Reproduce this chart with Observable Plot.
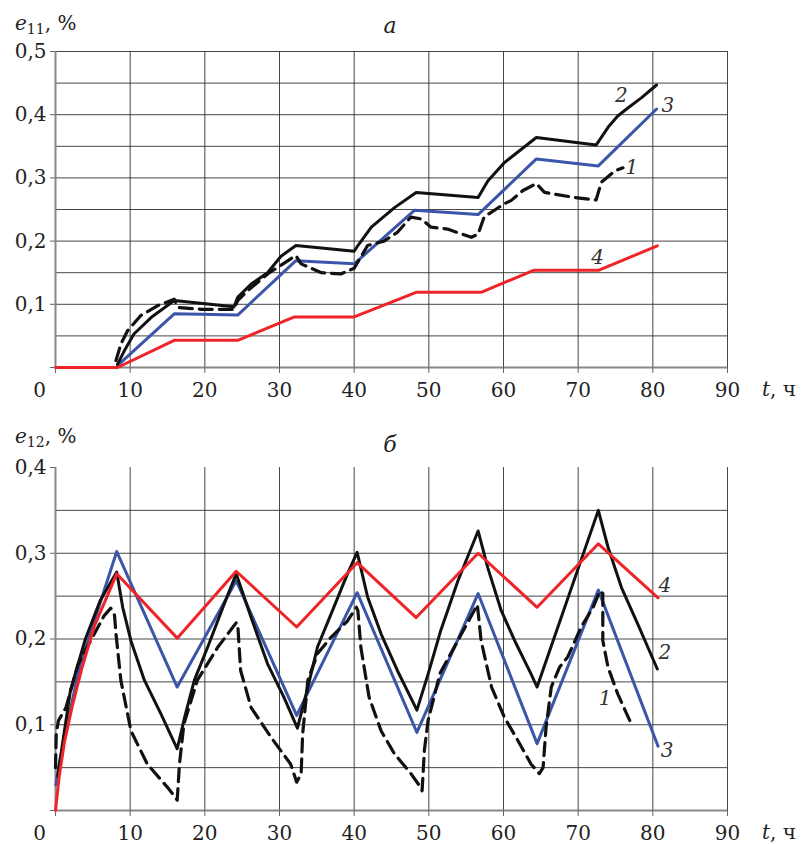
<!DOCTYPE html>
<html><head><meta charset="utf-8">
<script src="https://cdn.jsdelivr.net/npm/d3@7"></script>
<script src="https://cdn.jsdelivr.net/npm/@observablehq/plot@0.6"></script>
<style>
body{margin:0;background:#fff;}
#chart{width:801px;}
#chart svg{display:block;}
</style>
</head><body><div id="chart"></div>
<script>
// ---------- shared ticks ----------
const xTicks = [0, 10, 20, 30, 40, 50, 60, 70, 80, 90];
const xGrid = [10, 20, 30, 40, 50, 60, 70, 80, 90];

// ---------- panel а (e11) ----------
const aYTicks = [0, 0.1, 0.2, 0.3, 0.4, 0.5];
const aHGrid = [0.05, 0.1, 0.15, 0.2, 0.25, 0.3, 0.35, 0.4, 0.45, 0.5];

const a1_t = [8.1, 8.75, 9.65, 11.4, 13.7, 15.9, 16.4, 19.5, 23.9, 24.4, 25.7, 28.4, 31.5, 32.2, 32.9, 35.6, 38.2, 40.0, 41.8, 44.0, 45.8, 47.6, 49.0, 50.3, 52.5, 55.7, 56.6, 57.4, 60.1, 61.0, 62.6, 64.4, 65.5, 69.5, 72.4, 73.1, 74.9, 76.0];
const a1_e = [0.011, 0.037, 0.058, 0.082, 0.098, 0.108, 0.095, 0.092, 0.092, 0.106, 0.121, 0.148, 0.172, 0.177, 0.164, 0.150, 0.148, 0.157, 0.193, 0.200, 0.214, 0.238, 0.235, 0.222, 0.219, 0.206, 0.211, 0.238, 0.259, 0.264, 0.280, 0.291, 0.277, 0.269, 0.265, 0.293, 0.311, 0.316];

const a2_t = [8.3, 9.2, 10.5, 12.8, 15.9, 23.9, 24.4, 26.2, 28.4, 30.2, 32.2, 40.0, 40.5, 42.3, 45.4, 48.3, 56.6, 57.9, 60.1, 64.4, 72.4, 73.1, 74.0, 75.3, 76.7, 78.5, 80.5];
const a2_e = [0.005, 0.026, 0.053, 0.079, 0.106, 0.096, 0.111, 0.132, 0.150, 0.176, 0.193, 0.184, 0.193, 0.222, 0.253, 0.277, 0.269, 0.295, 0.324, 0.364, 0.352, 0.364, 0.380, 0.398, 0.411, 0.427, 0.447];

const a3_t = [8.3, 15.9, 24.4, 32.2, 40.0, 48.1, 56.6, 64.4, 72.7, 80.5];
const a3_e = [0.003, 0.085, 0.083, 0.169, 0.164, 0.249, 0.242, 0.330, 0.319, 0.409];

const a4_t = [0, 8.3, 15.9, 24.4, 32.0, 40.0, 48.3, 57.0, 64.1, 72.8, 80.6];
const a4_e = [0, 0, 0.043, 0.043, 0.080, 0.080, 0.119, 0.119, 0.154, 0.154, 0.1925];

const aLabels = ["1", "2", "3", "4"];
const aLabel_t = [77.2, 75.8, 82.0, 72.6];
const aLabel_e = [0.316, 0.430, 0.414, 0.1736];

// ---------- panel б (e12) ----------
const bYTicks = [0, 0.1, 0.2, 0.3, 0.4];
const bHGrid = [0.05, 0.1, 0.15, 0.2, 0.25, 0.3, 0.35];

const b1_t = [0, 0.1, 0.4, 1.4, 3.0, 5.2, 6.5, 7.4, 7.9, 8.1, 8.75, 10.1, 12.3, 15.0, 16.0, 16.3, 16.6, 17.2, 19.0, 21.7, 24.2, 24.4, 24.8, 26.2, 28.9, 31.5, 32.3, 32.9, 33.1, 33.8, 35.1, 36.9, 39.1, 40.3, 40.5, 40.9, 42.0, 43.6, 45.4, 47.6, 48.9, 49.1, 49.4, 49.9, 51.5, 54.0, 56.5, 57.0, 58.4, 60.1, 61.9, 63.7, 64.8, 65.3, 65.7, 66.4, 67.5, 68.6, 70.4, 72.0, 72.9, 73.3, 73.3, 74.0, 75.3, 76.9];
const b1_e = [0.05, 0.09, 0.105, 0.12, 0.17, 0.206, 0.227, 0.236, 0.228, 0.206, 0.152, 0.093, 0.054, 0.027, 0.016, 0.012, 0.054, 0.101, 0.152, 0.19, 0.219, 0.218, 0.163, 0.12, 0.085, 0.054, 0.033, 0.043, 0.089, 0.152, 0.183, 0.202, 0.221, 0.237, 0.233, 0.19, 0.132, 0.093, 0.066, 0.043, 0.027, 0.023, 0.07, 0.105, 0.16, 0.2, 0.24, 0.198, 0.144, 0.109, 0.082, 0.054, 0.043, 0.05, 0.097, 0.144, 0.167, 0.179, 0.214, 0.237, 0.256, 0.253, 0.198, 0.167, 0.136, 0.105];

const b2_t = [0.3, 2.0, 4.0, 6.0, 8.2, 9.0, 10.1, 11.9, 14.1, 16.3, 17.3, 18.6, 20.4, 22.6, 24.2, 26.2, 28.4, 30.6, 32.4, 33.8, 35.1, 36.9, 39.1, 40.4, 41.8, 43.6, 45.8, 48.4, 49.9, 51.6, 53.9, 56.6, 57.9, 59.7, 61.5, 63.7, 64.5, 72.7, 74.0, 75.8, 78.0, 80.6];
const b2_e = [0.04, 0.14, 0.2, 0.245, 0.278, 0.237, 0.198, 0.152, 0.113, 0.072, 0.109, 0.152, 0.191, 0.241, 0.276, 0.225, 0.171, 0.132, 0.096, 0.144, 0.191, 0.229, 0.276, 0.301, 0.249, 0.206, 0.163, 0.117, 0.159, 0.21, 0.268, 0.326, 0.283, 0.233, 0.198, 0.159, 0.144, 0.350, 0.307, 0.260, 0.217, 0.165];

const b3_t = [0.05, 0.5, 1.6, 3.2, 8.2, 16.3, 24.2, 32.3, 40.4, 48.4, 56.6, 64.5, 72.7, 80.7];
const b3_e = [0.03, 0.055, 0.101, 0.167, 0.302, 0.144, 0.268, 0.111, 0.254, 0.091, 0.253, 0.078, 0.257, 0.075];

const b4_t = [0, 0.5, 1.2, 2.2, 3.5, 5.2, 8.2, 16.3, 24.2, 32.3, 40.4, 48.3, 56.6, 64.5, 72.7, 80.7];
const b4_e = [0, 0.04, 0.08, 0.12, 0.165, 0.215, 0.276, 0.201, 0.279, 0.214, 0.289, 0.225, 0.300, 0.237, 0.311, 0.248];

const bLabels = ["1", "2", "3", "4"];
const bLabel_t = [73.6, 81.6, 81.9, 81.6];
const bLabel_e = [0.1305, 0.184, 0.070, 0.262];

// ---------- helpers ----------
const FONT = "'DejaVu Serif', serif";
const series = (t, e) => t.map((x, i) => ({t: x, e: e[i]}));
const labelRows = (txt, t, e) => txt.map((s, i) => ({s, t: t[i], e: e[i]}));
const fmtY = d => d === 0 ? "" : d.toFixed(1).replace(".", ",");

function panel(o) {
  const svg = Plot.plot({
    width: 801, height: o.h,
    marginLeft: 55, marginRight: 74, marginTop: o.mt, marginBottom: o.mb,
    x: {domain: [0, 90]},
    y: {domain: [0, o.ymax]},
    style: {fontFamily: FONT, fontSize: "20px", color: "#222", background: "#fff", overflow: "visible"},
    marks: [
      Plot.ruleY(o.hGrid, {x1: 0, x2: 90, stroke: "#333", strokeWidth: 1, strokeOpacity: 0.9}),
      Plot.ruleX(xGrid, {y1: 0, y2: o.ymax, stroke: "#333", strokeWidth: 1, strokeOpacity: 0.9}),
      Plot.ruleX([0], {y1: 0, y2: o.ymax, stroke: "#888", strokeWidth: 2}),
      Plot.ruleY([0], {x1: 0, x2: 90, stroke: "#888", strokeWidth: 2}),
      Plot.axisX({ticks: xTicks, tickSize: 6, tickPadding: 9, tickFormat: d => d === 0 ? "" : String(d),
                  stroke: "#666", fill: "#222", fontSize: 20, label: null}),
      Plot.axisY({ticks: o.yTicks, tickSize: 5, tickPadding: 4, tickFormat: fmtY,
                  stroke: "#666", fill: "#222", fontSize: 20, label: null}),
      Plot.text(["0"], {x: () => 0, y: () => 0, text: d => d, dx: -16, dy: 23, fontSize: 20, fill: "#222"}),
      Plot.line(o.s3, {x: "t", y: "e", stroke: "#3b55a8", strokeWidth: 3, strokeLinejoin: "round"}),
      Plot.line(o.s1, {x: "t", y: "e", stroke: "#111", strokeWidth: 3.2, strokeDasharray: "13,7", strokeLinejoin: "round"}),
      Plot.line(o.s2, {x: "t", y: "e", stroke: "#111", strokeWidth: 3, strokeLinejoin: "round"}),
      Plot.line(o.s4, {x: "t", y: "e", stroke: "#ee2428", strokeWidth: 3, strokeLinejoin: "round"}),
      Plot.text(o.labels, {x: "t", y: "e", text: "s", fontStyle: "italic", fontSize: 20, fill: "#333"})
    ]
  });
  const s = d3.select(svg);
  // y-axis caption
  const yl = s.append("text").attr("x", 15).attr("y", o.ylY).attr("text-anchor", "start")
    .attr("font-family", FONT).attr("font-size", 20).attr("fill", "#222");
  yl.append("tspan").attr("font-style", "italic").text("e");
  yl.append("tspan").attr("font-size", 14).attr("dy", 4).text(o.sub);
  yl.append("tspan").attr("dy", -4).text(", %");
  // panel title
  s.append("text").attr("x", 390).attr("y", o.titleY).attr("text-anchor", "middle")
    .attr("font-family", FONT).attr("font-size", 22).attr("font-style", "italic").attr("fill", "#222")
    .text(o.title);
  // x-axis caption
  const xl = s.append("text").attr("x", 762).attr("y", o.xlY).attr("text-anchor", "start")
    .attr("font-family", FONT).attr("font-size", 20).attr("fill", "#222");
  xl.append("tspan").attr("font-style", "italic").text("t");
  xl.append("tspan").text(", ч");
  return svg;
}

const root = document.getElementById("chart");
root.appendChild(panel({
  h: 400, mt: 51, mb: 33, ymax: 0.5, yTicks: aYTicks, hGrid: aHGrid,
  s1: series(a1_t, a1_e), s2: series(a2_t, a2_e), s3: series(a3_t, a3_e), s4: series(a4_t, a4_e),
  labels: labelRows(aLabels, aLabel_t, aLabel_e),
  sub: "11", ylY: 30, title: "а", titleY: 33, xlY: 396
}));
root.appendChild(panel({
  h: 444, mt: 67, mb: 34, ymax: 0.4, yTicks: bYTicks, hGrid: bHGrid,
  s1: series(b1_t, b1_e), s2: series(b2_t, b2_e), s3: series(b3_t, b3_e), s4: series(b4_t, b4_e),
  labels: labelRows(bLabels, bLabel_t, bLabel_e),
  sub: "12", ylY: 43, title: "б", titleY: 52, xlY: 439
}));
</script>
</body></html>
